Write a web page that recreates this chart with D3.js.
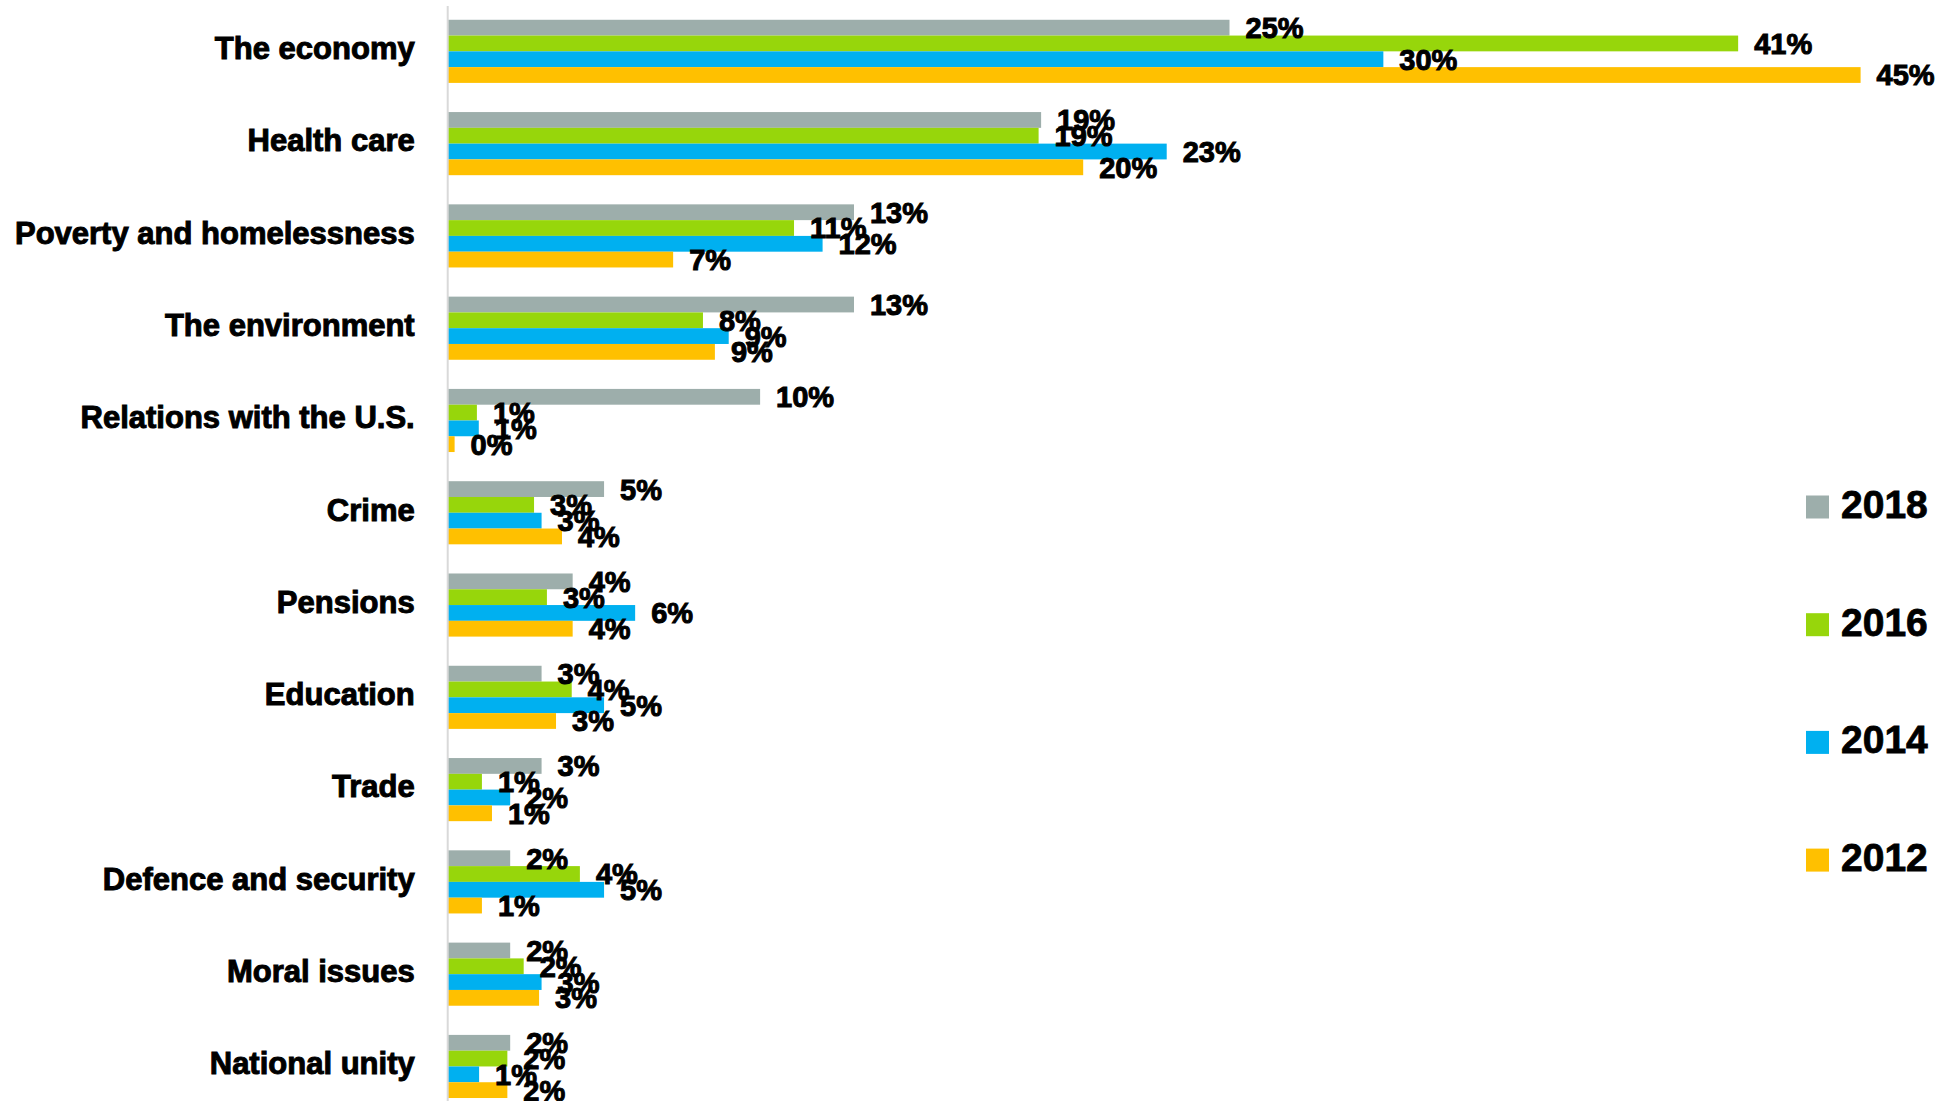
<html>
<head>
<script src="https://d3js.org/d3.v7.min.js"></script>
<style>
  body { margin: 0; background: #fff; }
  text { font-family: "Liberation Sans", Arial, sans-serif; font-weight: bold; }
</style>
</head>

<body>
  <script>
    const width = 1939;
    const height = 1101;

    // data (percent)
    const categories = ["The economy", "Health care", "Poverty and homelessness", "The environment",
      "Relations with the U.S.", "Crime", "Pensions", "Education", "Trade",
      "Defence and security", "Moral issues", "National unity"];
    const years = ["2018", "2016", "2014", "2012"];
    const colors = ["#9DAEAB", "#97D60B", "#00B0F0", "#FFC000"];
    const v2018 = [24.9, 18.9, 12.94, 12.94, 9.95, 4.98, 3.98, 2.99, 2.99, 1.99, 1.99, 1.99];
    const v2016 = [41.1, 18.82, 11.03, 8.13, 0.93, 2.75, 3.16, 3.95, 1.09, 4.21, 2.42, 1.9];
    const v2014 = [29.8, 22.9, 11.94, 8.95, 0.99, 2.99, 5.97, 4.98, 1.99, 4.98, 2.99, 1.0];
    const v2012 = [45.0, 20.24, 7.18, 8.51, 0.22, 3.64, 3.98, 3.45, 1.41, 1.09, 2.91, 1.9];
    const series = [v2018, v2016, v2014, v2012];

    const svg = d3.select("body")
              .append("svg")
              .attr("width", width)
              .attr("height", height);

    // scales
    const y = d3.scaleBand()
              .domain(categories)
              .range([5.2, 1112.6])
              .paddingInner(0.316)
              .paddingOuter(0.158);

    const ySub = d3.scaleBand()
              .domain(years)
              .range([0, y.bandwidth()]);

    const x = d3.scaleLinear()
              .domain([0, 45])
              .range([447.7, 1860.6]);

    // rows of data for drawing
    const rows = [];
    categories.forEach((c, i) => {
      years.forEach((yr, j) => {
        rows.push({ cat: c, year: yr, value: series[j][i], color: colors[j] });
      });
    });

    // bars
    svg.append("g").selectAll("rect")
              .data(rows)
              .join("rect")
              .attr("x", x(0))
              .attr("y", d => y(d.cat) + ySub(d.year))
              .attr("width", d => x(d.value) - x(0))
              .attr("height", ySub.bandwidth())
              .attr("fill", d => d.color);

    // vertical axis line
    svg.append("line")
              .attr("x1", x(0))
              .attr("x2", x(0))
              .attr("y1", 6)
              .attr("y2", height)
              .attr("stroke", "#D9D9D9")
              .attr("stroke-width", 2);

    // category labels
    const yAxis = svg.append("g")
              .attr("transform", `translate(${x(0) - 33},0)`)
              .call(d3.axisLeft(y).tickSize(0).tickPadding(0));
    yAxis.select(".domain").remove();
    yAxis.selectAll("text")
              .attr("font-size", 31)
              .attr("font-family", "'Liberation Sans', Arial, sans-serif")
              .attr("font-weight", "bold")
              .attr("fill", "#000")
              .attr("stroke", "#000")
              .attr("stroke-width", 1)
              .attr("dy", "0.25em");

    // value labels
    svg.append("g").selectAll("text")
              .data(rows)
              .join("text")
              .attr("x", d => x(d.value) + 16)
              .attr("y", d => y(d.cat) + ySub(d.year) + ySub.bandwidth() / 2)
              .attr("dy", "0.36em")
              .attr("font-size", 29)
              .attr("stroke", "#000")
              .attr("stroke-width", 1)
              .text(d => Math.round(d.value) + "%");

    // legend
    const legend = svg.append("g").selectAll("g")
              .data(years)
              .join("g")
              .attr("transform", (d, i) => `translate(1806,${507 + i * 117.7})`);

    legend.append("rect")
              .attr("x", 0)
              .attr("y", -11.5)
              .attr("width", 23)
              .attr("height", 23)
              .attr("fill", (d, i) => colors[i]);

    legend.append("text")
              .attr("x", 35)
              .attr("y", 0)
              .attr("dy", "0.28em")
              .attr("font-size", 39)
              .attr("stroke", "#000")
              .attr("stroke-width", 0.8)
              .text(d => d);
  </script>
</body>
</html>
